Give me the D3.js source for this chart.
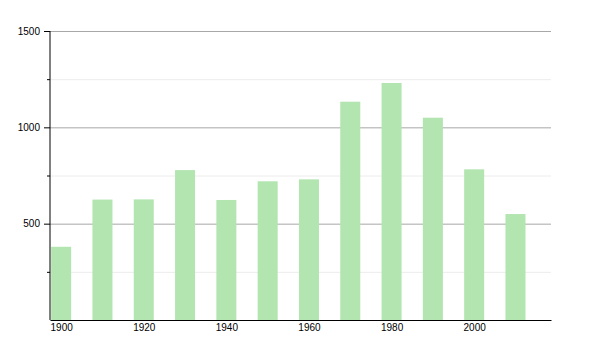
<!DOCTYPE html>
<html>
<head>
<meta charset="utf-8">
<script src="https://cdn.jsdelivr.net/npm/d3@7"></script>
<style>
  body { margin: 0; background: #fff; }
  text { font-family: "Liberation Sans", Arial, sans-serif; font-size: 10px; fill: #000; }
</style>
</head>
<body>
<div id="chart"></div>
<script>
'use strict'

// data
const years = [1900, 1910, 1920, 1930, 1940, 1950, 1960, 1970, 1980, 1990, 2000, 2010]
const values = [380, 625, 626, 778, 623, 720, 730, 1133, 1230, 1050, 782, 550]
const yMajorTicks = [500, 1000, 1500]
const yMinorTicks = [250, 750, 1250]
const xTicks = [1900, 1920, 1940, 1960, 1980, 2000]

const svgWidth = 600, svgHeight = 350
const margin = { left: 50, right: 49, top: 31, bottom: 30 }
const width = svgWidth - margin.left - margin.right
const height = svgHeight - margin.top - margin.bottom

const svg = d3.select('#chart')
    .append('svg')
    .attr('width', svgWidth)
    .attr('height', svgHeight)
    .append('g')
    .attr('transform', `translate(${margin.left},${margin.top})`)

// slight soft edge like the original
svg.append('defs').append('filter')
    .attr('id', 'soft')
    .attr('x', '-20%').attr('width', '140%')
    .append('feGaussianBlur')
    .attr('stdDeviation', '0.7 0')

// scales
const x = d3.scaleLinear()
    .domain([1897.3, 2018.6])
    .range([0, width])

const y = d3.scaleLinear()
    .domain([0, 1500])
    .range([height, 0])

// grid
svg.append('g')
    .call(d3.axisLeft(y).tickValues(yMinorTicks).tickSize(-width).tickFormat(''))
    .call(g => g.select('.domain').remove())
    .selectAll('line')
    .attr('stroke', '#ececec')

svg.append('g')
    .call(d3.axisLeft(y).tickValues(yMajorTicks).tickSize(-width).tickFormat(''))
    .call(g => g.select('.domain').remove())
    .selectAll('line')
    .attr('stroke', '#a8a8a8')

// bars
const barW = 20
svg.selectAll('.bar')
    .data(years)
    .enter()
    .append('rect')
    .attr('class', 'bar')
    .attr('x', (d, i) => x(d) - barW / 2)
    .attr('y', (d, i) => y(values[i]))
    .attr('width', barW)
    .attr('height', (d, i) => height - y(values[i]))
    .attr('fill', '#b2e5b0')
    .attr('filter', 'url(#soft)')

// y axis
svg.append('g')
    .call(d3.axisLeft(y).tickValues(yMinorTicks).tickSize(3).tickFormat(''))
    .call(g => g.select('.domain').remove())

const yAxis = svg.append('g')
    .call(d3.axisLeft(y).tickValues(yMajorTicks).tickFormat(d3.format('d')).tickSize(6).tickPadding(4).tickSizeOuter(0))
yAxis.select('.domain').attr('d', `M0,${height}V0`)
yAxis.selectAll('text').style('font-size', '10px')

// x axis
const xAxis = svg.append('g')
    .attr('transform', `translate(0,${height})`)
    .call(d3.axisBottom(x).tickValues(xTicks).tickFormat(d3.format('d')).tickSize(0).tickPadding(4).tickSizeOuter(0))
xAxis.selectAll('text').style('font-size', '10px')
</script>
</body>
</html>
